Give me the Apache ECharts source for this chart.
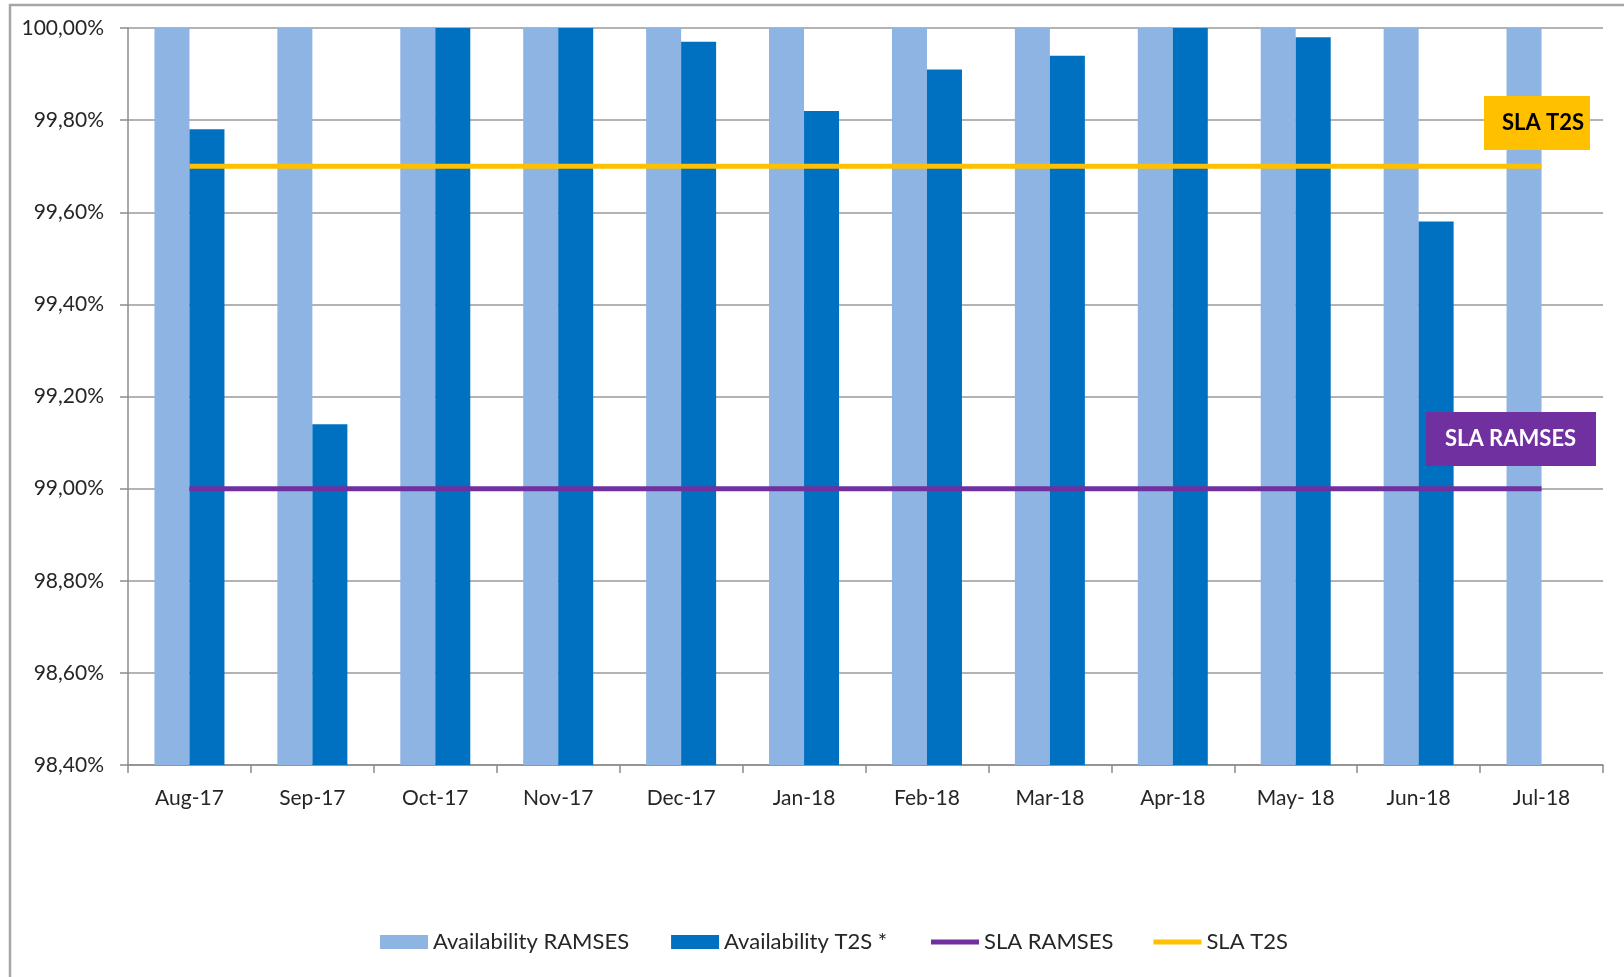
<!DOCTYPE html>
<html>
<head>
<meta charset="utf-8">
<script src="https://cdn.jsdelivr.net/npm/echarts@6/dist/echarts.min.js"></script>
<style>
html,body{margin:0;padding:0;background:#fff;}
#chart{width:1624px;height:977px;}
</style>
</head>
<body>
<div id="chart"></div>
<script>
var categories = ['Aug-17','Sep-17','Oct-17','Nov-17','Dec-17','Jan-18','Feb-18','Mar-18','Apr-18','May- 18','Jun-18','Jul-18'];
var availabilityRamses = [100,100,100,100,100,100,100,100,100,100,100,100];
var availabilityT2S = [99.78,99.14,100,100,99.97,99.82,99.91,99.94,100,99.98,99.58,null];
var slaRamses = [99,99,99,99,99,99,99,99,99,99,99,99];
var slaT2S = [99.7,99.7,99.7,99.7,99.7,99.7,99.7,99.7,99.7,99.7,99.7,99.7];
var yMin = 98.4, yMax = 100, yStep = 0.2;

var FONT = 'Lato';
var TXT = '#262626';
var chart = echarts.init(document.getElementById('chart'), null, {renderer:'canvas'});
chart.setOption({
  animation: false,
  backgroundColor: '#fff',
  textStyle: {fontFamily: FONT},
  grid: {left: 128, right: 21, top: 28, bottom: 212, containLabel: false},
  legend: [
    {
      left: 375, top: 926,
      itemWidth: 48, itemHeight: 14, itemGap: 42, icon: 'rect',
      textStyle: {fontFamily: FONT, fontSize: 22, color: TXT},
      data: ['Availability RAMSES','Availability T2S *']
    },
    {
      left: 926, top: 926,
      itemWidth: 48, itemHeight: 5, itemGap: 40, icon: 'rect',
      textStyle: {fontFamily: FONT, fontSize: 22, color: TXT},
      data: ['SLA RAMSES','SLA T2S']
    }
  ],
  xAxis: {
    type: 'category',
    data: categories,
    boundaryGap: true,
    axisLine: {lineStyle: {color: '#8c8c8c', width: 1.5}},
    axisTick: {show: true, length: 8, lineStyle: {color: '#8c8c8c', width: 1.5}},
    axisLabel: {fontFamily: FONT, fontSize: 21, color: TXT, margin: 23}
  },
  yAxis: {
    type: 'value',
    min: yMin, max: yMax, interval: yStep,
    axisLine: {show: true, lineStyle: {color: '#8c8c8c', width: 1.5}},
    axisTick: {show: true, length: 8, lineStyle: {color: '#8c8c8c', width: 1.5}},
    axisLabel: {
      fontFamily: FONT, fontSize: 21, color: TXT, margin: 24,
      formatter: function(v){ return v.toFixed(2).replace('.', ',') + '%'; }
    },
    splitLine: {show: true, lineStyle: {color: '#9a9a9a', width: 1.5}}
  },
  series: [
    {name: 'Availability RAMSES', type: 'bar', data: availabilityRamses, barWidth: 35, barGap: '0%',
     itemStyle: {color: '#8EB4E3'}, z: 2},
    {name: 'Availability T2S *', type: 'bar', data: availabilityT2S, barWidth: 35, barGap: '0%',
     itemStyle: {color: '#0070C0'}, z: 2},
    {name: 'SLA RAMSES', type: 'line', data: slaRamses, symbol: 'none', showSymbol: false,
     lineStyle: {color: '#7030A0', width: 5}, itemStyle: {color: '#7030A0'}, z: 5},
    {name: 'SLA T2S', type: 'line', data: slaT2S, symbol: 'none', showSymbol: false,
     lineStyle: {color: '#FFC000', width: 5}, itemStyle: {color: '#FFC000'}, z: 5}
  ],
  graphic: [
    {type: 'polyline', z: 100, shape: {points: [[10, 977], [10, 5], [1624, 5]]},
     style: {stroke: '#a6a6a6', lineWidth: 2.5, fill: null}},
    {type: 'rect', z: 100, shape: {x: 1484, y: 96, width: 106, height: 54}, style: {fill: '#FFC000'}},
    {type: 'text', z: 101, x: 1502, y: 123,
     style: {text: 'SLA T2S', fill: '#000', font: 'bold 22px Lato', textVerticalAlign: 'middle', verticalAlign: 'middle'}},
    {type: 'rect', z: 100, shape: {x: 1426, y: 412, width: 170, height: 54}, style: {fill: '#7030A0'}},
    {type: 'text', z: 101, x: 1445, y: 439,
     style: {text: 'SLA RAMSES', fill: '#fff', font: 'bold 22px Lato', textVerticalAlign: 'middle', verticalAlign: 'middle'}}
  ]
});
</script>
</body>
</html>
